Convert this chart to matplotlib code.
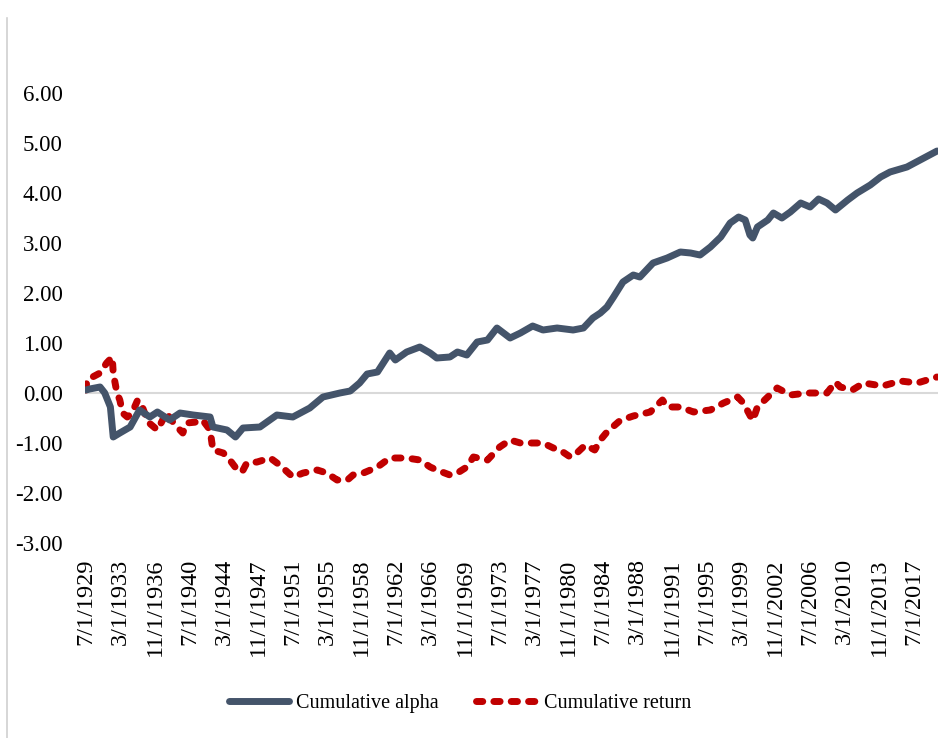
import matplotlib
matplotlib.use("Agg")
import matplotlib.pyplot as plt
from matplotlib.lines import Line2D
import numpy as np

plt.rcParams['font.family'] = ['Liberation Serif', 'DejaVu Serif']

# values (decimal year, cumulative value)
alpha_year = [1929.5, 1929.9, 1931.0, 1931.5, 1932.1, 1932.4, 1933.1, 1934.2, 1935.2, 1936.3,
              1937.1, 1938.4, 1939.5, 1940.9, 1942.7, 1943.0, 1944.5, 1945.4, 1946.2, 1948.0,
              1949.8, 1951.5, 1953.3, 1954.7, 1956.5, 1957.6, 1958.6, 1959.4, 1960.5, 1961.8,
              1962.4, 1963.6, 1965.0, 1966.1, 1966.8, 1968.2, 1969.0, 1970.0, 1971.1, 1972.2,
              1973.2, 1973.9, 1974.6, 1975.7, 1977.0, 1978.1, 1979.6, 1981.3, 1982.4, 1983.4,
              1984.2, 1984.9, 1985.6, 1986.6, 1987.7, 1988.4, 1989.8, 1991.3, 1992.7, 1993.8,
              1994.8, 1995.9, 1997.0, 1998.0, 1998.9, 1999.6, 2000.1, 2000.4, 2000.9, 2002.0,
              2002.6, 2003.5, 2004.4, 2005.5, 2006.5, 2007.4, 2008.3, 2009.2, 2010.5, 2011.5,
              2012.9, 2014.0, 2015.0, 2016.8, 2018.2, 2020.0]
alpha_val = [0.06, 0.08, 0.12, 0.0, -0.28, -0.88, -0.8, -0.68, -0.34, -0.48,
             -0.38, -0.54, -0.4, -0.44, -0.48, -0.68, -0.74, -0.88, -0.7, -0.68,
             -0.44, -0.48, -0.3, -0.08, 0.0, 0.04, 0.2, 0.38, 0.42, 0.8,
             0.66, 0.82, 0.92, 0.8, 0.7, 0.72, 0.82, 0.76, 1.02, 1.06,
             1.3, 1.2, 1.1, 1.2, 1.34, 1.26, 1.3, 1.26, 1.3, 1.5,
             1.6, 1.72, 1.92, 2.22, 2.36, 2.32, 2.6, 2.7, 2.82, 2.8,
             2.76, 2.92, 3.12, 3.4, 3.52, 3.46, 3.16, 3.1, 3.32, 3.46,
             3.6, 3.5, 3.62, 3.8, 3.72, 3.88, 3.8, 3.66, 3.86, 4.0,
             4.16, 4.32, 4.42, 4.52, 4.66, 4.84]

return_year = [1929.5, 1929.6, 1930.2, 1931.0, 1931.7, 1932.3, 1932.4, 1932.8, 1933.1, 1933.4,
               1933.9, 1934.4, 1935.0, 1935.5, 1936.1, 1937.1, 1938.1, 1938.4, 1939.2, 1939.8,
               1940.2, 1941.3, 1941.9, 1942.7, 1943.0, 1944.1, 1944.8, 1945.6, 1946.1, 1946.6,
               1947.7, 1949.1, 1950.1, 1951.5, 1952.6, 1954.1, 1955.1, 1956.2, 1957.3, 1957.9,
               1959.0, 1960.5, 1961.8, 1963.6, 1965.0, 1966.1, 1966.8, 1968.2, 1969.0, 1970.0,
               1970.7, 1972.2, 1973.5, 1974.6, 1975.7, 1977.0, 1978.1, 1979.2, 1979.9, 1981.0,
               1981.7, 1982.6, 1983.6, 1984.2, 1984.9, 1986.3, 1987.7, 1989.5, 1990.8, 1991.3,
               1992.7, 1994.1, 1995.9, 1997.3, 1998.8, 1999.4, 2000.4, 2000.9, 2002.0, 2003.0,
               2004.4, 2006.2, 2008.3, 2009.2, 2009.7, 2011.0, 2012.2, 2014.2, 2016.1, 2017.9,
               2020.0]
return_val = [0.06, 0.26, 0.32, 0.4, 0.6, 0.72, 0.4, 0.0, -0.14, -0.4,
              -0.48, -0.4, -0.14, -0.28, -0.58, -0.74, -0.38, -0.5, -0.68, -0.8,
              -0.6, -0.58, -0.54, -0.74, -1.14, -1.2, -1.34, -1.54, -1.58, -1.4,
              -1.38, -1.3, -1.44, -1.68, -1.6, -1.54, -1.6, -1.74, -1.74, -1.64,
              -1.6, -1.48, -1.3, -1.3, -1.34, -1.48, -1.54, -1.64, -1.6, -1.48,
              -1.28, -1.34, -1.08, -0.94, -1.0, -1.0, -1.0, -1.1, -1.14, -1.28,
              -1.2, -1.04, -1.14, -0.94, -0.78, -0.55, -0.46, -0.38, -0.14, -0.28,
              -0.28, -0.38, -0.34, -0.2, -0.08, -0.2, -0.55, -0.28, -0.08, 0.1,
              -0.04, 0.0, 0.0, 0.22, 0.12, 0.06, 0.2, 0.14, 0.24, 0.2,
              0.32]

tick_labels = ["7/1/1929", "3/1/1933", "11/1/1936", "7/1/1940", "3/1/1944", "11/1/1947",
               "7/1/1951", "3/1/1955", "11/1/1958", "7/1/1962", "3/1/1966", "11/1/1969",
               "7/1/1973", "3/1/1977", "11/1/1980", "7/1/1984", "3/1/1988", "11/1/1991",
               "7/1/1995", "3/1/1999", "11/1/2002", "7/1/2006", "3/1/2010", "11/1/2013",
               "7/1/2017"]
tick_pos = 1929.5 + np.arange(len(tick_labels)) * 44 / 12

fig = plt.figure(figsize=(9.38, 7.38), dpi=100)
ax = fig.add_axes([85 / 938, 1 - 543 / 738, 1 - 85 / 938, 450 / 738])

ax.axhline(0, color="#D9D9D9", lw=1.5, zorder=1)
ax.plot(alpha_year, alpha_val, color="#44546A", lw=5, solid_capstyle="round",
        solid_joinstyle="round", label="Cumulative alpha", zorder=3)
ax.plot(return_year, return_val, color="#C00000", lw=5, linestyle=(0, (0.9, 1.6)),
        dash_capstyle="round", dash_joinstyle="round", label="Cumulative return", zorder=2)

ax.set_xlim(1929.4, 2020.1)
ax.set_ylim(-3, 6)
ax.set_yticks(np.arange(-3, 7, 1))
ax.set_yticklabels([f"{v:.2f}" for v in np.arange(-3, 7, 1)], fontsize=16.5)
ax.set_xticks(tick_pos)
ax.set_xticklabels(tick_labels, rotation=90, fontsize=17.5)
ax.tick_params(axis="y", length=0, pad=16)
ax.tick_params(axis="x", length=0, pad=11)
for s in ax.spines.values():
    s.set_visible(False)

# chart border, only the left side shows in the reference
fig.add_artist(Line2D([7 / 938, 7 / 938], [0, 1 - 18 / 738], color="#D0D0D0", lw=1.2))

fig.legend(loc="center", bbox_to_anchor=(460 / 938, 1 - 703 / 738), ncol=2, frameon=False,
           fontsize=14.5, handlelength=3.0, handletextpad=0.35, columnspacing=1.85)

fig.savefig("out.png", dpi=100)
